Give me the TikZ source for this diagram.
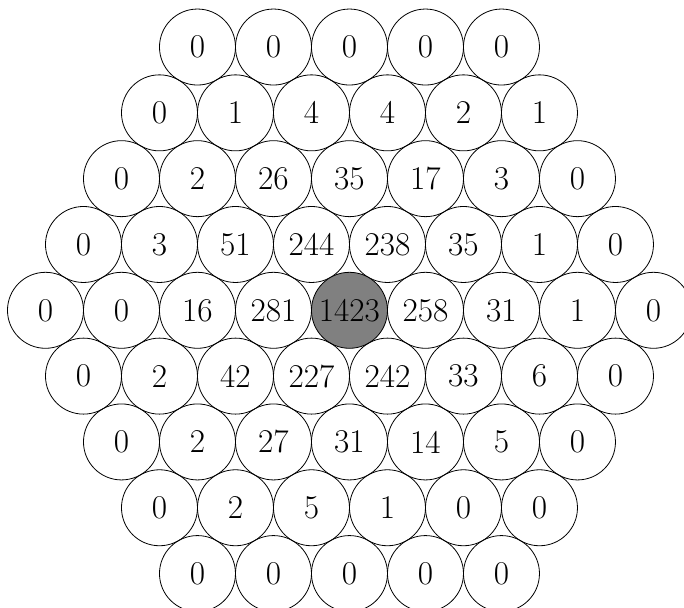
\documentclass[tikz,border=0pt]{standalone}
\begin{document}
\begin{tikzpicture}[
  every node/.style={font=\Huge},
  cell/.style={circle,draw,line width=0.6pt,inner sep=0pt,minimum size=2cm}]
  \useasboundingbox (-9.197,-7.834) rectangle (8.803,8.166);
  % Hexagonal grid of counts, row by row from the top
  \foreach \r/\vals in {
      0/{0,0,0,0,0},
      1/{0,1,4,4,2,1},
      2/{0,2,26,35,17,3,0},
      3/{0,3,51,244,238,35,1,0},
      4/{0,0,16,281,1423,258,31,1,0},
      5/{0,2,42,227,242,33,6,0},
      6/{0,2,27,31,14,5,0},
      7/{0,2,5,1,0,0},
      8/{0,0,0,0,0}}{
    \foreach \v [count=\k] in \vals {
      \pgfmathsetmacro\xpos{-(8-abs(\r-4))+2*(\k-1)}
      \pgfmathsetmacro\ypos{(4-\r)*sqrt(3)}
      \ifnum\r=4 \ifnum\k=5 \def\cellfill{gray}\else\def\cellfill{none}\fi
      \else\def\cellfill{none}\fi
      \node[cell,fill=\cellfill] (c\r-\k) at (\xpos,\ypos) {\v};
    }
  }
\end{tikzpicture}
\end{document}
